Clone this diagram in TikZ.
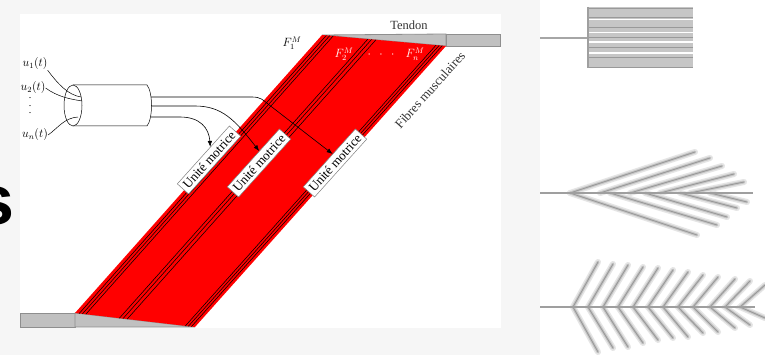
\documentclass[tikz,border=0pt]{standalone}
\usepackage{fontspec}
\setmainfont{Liberation Serif}
\newfontfamily\slidesans{Liberation Sans}
\usetikzlibrary{calc,arrows.meta}

\definecolor{musclered}{HTML}{FF0000}
\definecolor{tendongrey}{HTML}{C0C0C0}
\definecolor{tendonedge}{HTML}{8E8E8E}
\definecolor{slidebg}{HTML}{F6F6F6}
\definecolor{labelgrey}{HTML}{333333}

\begin{document}
\begin{tikzpicture}[x=1pt,y=-1pt,
  tendon/.style={fill=tendongrey, draw=tendonedge, line width=0.8pt},
  fibreline/.style={black, line width=0.55pt},
  unitbox/.style={draw=gray, fill=white, line width=0.5pt, rotate=48,
    inner xsep=3pt, inner ysep=3pt, font=\fontsize{13}{13}\selectfont},
  nerve/.style={line width=0.5pt},
  signal/.style={line width=0.6pt, -{Latex[length=6pt,width=4.5pt]}},
  inputlabel/.style={font=\fontsize{11.5}{11.5}\selectfont, inner sep=0pt},
  forcelabel/.style={font=\fontsize{11.5}{11.5}\selectfont, inner sep=0pt},
  sketchglow/.style={gray!20, line width=6pt, line cap=round},
  sketchbody/.style={gray!45, line width=3pt, line cap=round},
  sketchcore/.style={gray!80, line width=0.9pt, line cap=round},
]
\useasboundingbox (0,0) rectangle (765,355);

% slide background and the two white panels
\fill[slidebg] (0,0) rectangle (765,355);
\fill[white] (20,14) rectangle (501,328);
\fill[white] (540,0) rectangle (765,355);

% tail of the slide title
\node[anchor=base east, inner sep=0pt,
  font=\slidesans\bfseries\fontsize{70}{70}\selectfont] (titletail) at (15,225) {s};

% muscle corners
\coordinate (A) at (322,35);
\coordinate (B) at (446,46);
\coordinate (C) at (75,313);
\coordinate (D) at (195,327);

% tendons
\draw[tendon] (446,34) rectangle (500,46);
\draw[tendon] (A) -- (446,34) -- (B) -- cycle;
\draw[tendon] (20,313) rectangle (75,327);
\draw[tendon] (C) -- (D) -- (75,327) -- cycle;

% muscle belly
\fill[musclered] (A) -- (B) -- (D) -- (C) -- cycle;
\foreach \t in {0.035,0.062,0.09,0.37,0.40,0.435,0.92,0.945,0.97}
  \draw[fibreline] ($(A)!\t!(B)$) -- ($(C)!\t!(D)$);

% nerve bundle
\draw[nerve, fill=white] (73,85) -- (147,85) .. controls (153,92) and (153,119) .. (147,126) -- (73,126);
\draw[nerve, fill=white] (73,105.5) ellipse [x radius=9, y radius=20.5];
\coordinate (n1) at (151,97);
\coordinate (n2) at (151.5,106);
\coordinate (n3) at (151,117);

% input signals
\node[inputlabel] (u1) at (35,64) {$u_1(t)$};
\node[inputlabel] (u2) at (33,88) {$u_2(t)$};
\node[align=center, inner sep=0pt, font=\fontsize{10}{7.5}\selectfont] (udots) at (30,106) {.\\.\\.};
\node[inputlabel] (un) at (35,135) {$u_n(t)$};
\draw[nerve] (u1.south east) .. controls (58,84) and (68,95) .. (81,97);
\draw[nerve] (u2.east) .. controls (58,97) and (70,99) .. (82,101);
\draw[nerve] (un.east) .. controls (58,128) and (64,118) .. (78,117);

% motor units
\node[unitbox] (m1) at (209,160) {Unité motrice};
\node[unitbox] (m2) at (259,163) {Unité motrice};
\node[unitbox] (m3) at (335,163) {Unité motrice};

% motor commands
\draw[signal] (n3) -- (180,117) .. controls (200,117) and (209,128) .. ($(m1.north)!0.27!(m1.north east)$);
\draw[signal] (n2) -- (195,106) .. controls (222,106) and (235,120) .. ($(m2.north)!0.23!(m2.north east)$);
\draw[signal] (n1) -- (252,97) .. controls (261,97) and (263.3,100.3) .. (268,104) -- ($(m3.north)!0.13!(m3.north east)$);

% labels
\node[font=\fontsize{12.5}{12.5}\selectfont, text=labelgrey, inner sep=0pt] (tendonlabel) at (409,25) {Tendon};
\node[font=\fontsize{13}{13}\selectfont, text=labelgrey, rotate=48, inner sep=0pt] (fibreslabel) at (430,90) {Fibres musculaires};
\node[forcelabel] (f1) at (292,43) {$F_1^M$};
\node[forcelabel, text=white] (f2) at (344,54) {$F_2^M$};
\node[forcelabel, text=white] (fdots) at (381,55) {$\cdot\ \ \cdot\ \ \cdot$};
\node[forcelabel, text=white] (fn) at (415,54) {$F_n^M$};

% parallel fibre arrangement
\draw[gray!70, line width=2pt] (540,38) -- (588,38);
\fill[gray!45] (588,7) rectangle (693,68);
\foreach \y in {19.5,32.5,42,53}
  \draw[white, line width=1.6pt] (589,\y) -- (694,\y);
\foreach \y in {8,17,27,37.5,47,57,67}
  \draw[gray!80, line width=0.8pt] (589,\y) -- (693,\y);
\draw[gray!75, line width=1.8pt] (588,7) -- (588,68);

% fusiform arrangement
\foreach \xa/\xb/\yb in {570/695/152, 600/710/158, 630/722/166, 660/734/174, 690/744/182,
                         570/697/235, 610/717/225, 645/727/217, 680/737/208, 710/747/202}
  \draw[sketchglow] (\xa,193) -- (\xb,\yb);
\foreach \xa/\xb/\yb in {570/695/152, 600/710/158, 630/722/166, 660/734/174, 690/744/182,
                         570/697/235, 610/717/225, 645/727/217, 680/737/208, 710/747/202}
  \draw[sketchbody] (\xa,193) -- (\xb,\yb);
\foreach \xa/\xb/\yb in {570/695/152, 600/710/158, 630/722/166, 660/734/174, 690/744/182,
                         570/697/235, 610/717/225, 645/727/217, 680/737/208, 710/747/202}
  \draw[sketchcore] (\xa,193) -- (\xb,\yb);
\draw[gray!75, line width=1.8pt] (540,193) -- (753,193);

% bipennate arrangement
\foreach \x/\yu/\yl in {573/262/352, 588/264/348, 603/265/347, 618/267/343, 633/268/340, 648/270/338,
                        663/272/337, 678/275/333, 693/277/332, 710/279/328, 725/281/325, 740/285/318}
  {
  \draw[sketchglow] (\x+25,\yu) -- (\x,307) -- (\x+25,\yl);
  }
\foreach \x/\yu/\yl in {573/262/352, 588/264/348, 603/265/347, 618/267/343, 633/268/340, 648/270/338,
                        663/272/337, 678/275/333, 693/277/332, 710/279/328, 725/281/325, 740/285/318}
  {
  \draw[sketchbody] (\x+25,\yu) -- (\x,307) -- (\x+25,\yl);
  \draw[sketchcore] (\x+25,\yu) -- (\x,307) -- (\x+25,\yl);
  }
\draw[gray!75, line width=1.8pt] (540,307) -- (755,307);
\end{tikzpicture}
\end{document}
